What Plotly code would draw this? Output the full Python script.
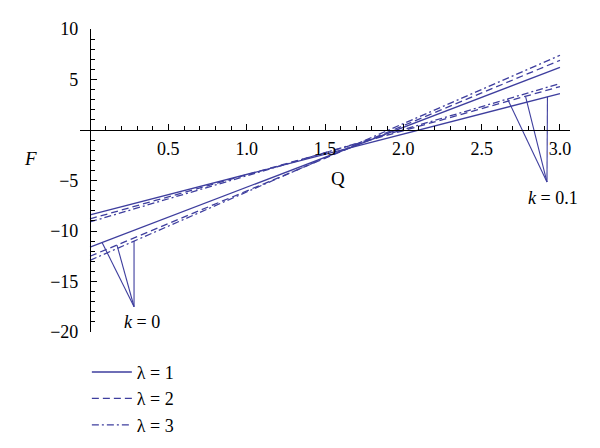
import plotly.graph_objects as go

# ---- data ----
q_ends = [0.0, 3.0]
lambdas = [1, 2, 3]
f_k0_start = [-11.6, -12.5, -12.9]
f_k0_end = [6.2, 6.9, 7.4]
f_k01_start = [-8.4, -8.8, -9.1]
f_k01_end = [3.6, 4.3, 4.6]

# pointer (callout) lines: tips on the curves, common vertex
k0_tip_q = [0.077, 0.172, 0.281]
k0_tip_f = [-11.14, -11.39, -11.0]
k0_vertex = [0.281, -17.5]
k01_tip_q = [2.665, 2.78, 2.92]
k01_tip_f = [3.07, 3.34, 3.28]
k01_vertex = [2.917, -5.15]

x_tick_vals = [0.5, 1.0, 1.5, 2.0, 2.5, 3.0]
x_tick_text = ["0.5", "1.0", "1.5", "2.0", "2.5", "3.0"]
y_tick_vals = [-20, -15, -10, -5, 5, 10]
y_tick_text = ["\u221220", "\u221215", "\u221210", "\u22125", "5", "10"]

x_range = [-0.064, 3.064]
y_range = [-20, 10]

COLOR = "rgb(62,62,158)"
FONT = "Liberation Serif"
dashes = ["solid", "7px,4px", "7px,3px,2px,3px"]

fig = go.Figure()
for i, lam in enumerate(lambdas):
    fig.add_trace(go.Scatter(
        x=q_ends, y=[f_k0_start[i], f_k0_end[i]], mode="lines",
        line=dict(color=COLOR, width=1.3, dash=dashes[i]),
        name=f"\u03bb = {lam}", showlegend=True))
for i, lam in enumerate(lambdas):
    fig.add_trace(go.Scatter(
        x=q_ends, y=[f_k01_start[i], f_k01_end[i]], mode="lines",
        line=dict(color=COLOR, width=1.3, dash=dashes[i]),
        name=f"\u03bb = {lam}", showlegend=False))


def pointer(tq, tf, v):
    xs, ys = [], []
    for a, b in zip(tq, tf):
        xs += [a, v[0], None]
        ys += [b, v[1], None]
    return xs, ys


for tq, tf, v in [(k0_tip_q, k0_tip_f, k0_vertex), (k01_tip_q, k01_tip_f, k01_vertex)]:
    xs, ys = pointer(tq, tf, v)
    fig.add_trace(go.Scatter(x=xs, y=ys, mode="lines",
                             line=dict(color=COLOR, width=1.1),
                             showlegend=False, hoverinfo="skip"))

fig.add_annotation(x=0.329, y=-19.0, text="<i>k</i> = 0",
                   showarrow=False, xanchor="center", yanchor="middle",
                   font=dict(family=FONT, size=18, color="black"))
fig.add_annotation(x=2.955, y=-6.73, text="<i>k</i> = 0.1",
                   showarrow=False, xanchor="center", yanchor="middle",
                   font=dict(family=FONT, size=18, color="black"))

# axis labels
fig.add_annotation(xref="paper", yref="paper", x=-0.118, y=0.574, text="<i>F</i>",
                   showarrow=False, font=dict(family=FONT, size=19, color="black"))
fig.add_annotation(xref="paper", yref="paper", x=0.527, y=0.508, text="Q",
                   showarrow=False, font=dict(family=FONT, size=19, color="black"))

y_pos = (0 - x_range[0]) / (x_range[1] - x_range[0])
x_pos = (0 - y_range[0]) / (y_range[1] - y_range[0])

# page body has an 8px margin; margins compensate so the plot area lands
# at x 80..570, y 29..332 in the window
fig.update_layout(
    width=600, height=448,
    margin=dict(l=72, r=38, t=21, b=124, autoexpand=False),
    plot_bgcolor="white", paper_bgcolor="white",
    font=dict(family=FONT, size=18, color="black"),
    xaxis=dict(range=x_range, showgrid=False, zeroline=False, showline=True,
               linecolor="black", linewidth=1.2, anchor="free", position=x_pos,
               tickmode="array", tickvals=x_tick_vals, ticktext=x_tick_text,
               ticks="inside", ticklen=6, tickwidth=1.1, tickcolor="black",
               ticklabelstandoff=2,
               tickfont=dict(family=FONT, size=18, color="black"),
               minor=dict(tickmode="linear", tick0=0, dtick=0.1, ticks="inside",
                          ticklen=3.5, tickwidth=1, tickcolor="black", showgrid=False)),
    yaxis=dict(range=y_range, showgrid=False, zeroline=False, showline=True,
               linecolor="black", linewidth=1.2, anchor="free", position=y_pos,
               tickmode="array", tickvals=y_tick_vals, ticktext=y_tick_text,
               ticks="inside", ticklen=6, tickwidth=1.1, tickcolor="black",
               ticklabelstandoff=8,
               tickfont=dict(family=FONT, size=18, color="black"),
               minor=dict(tickmode="linear", tick0=0, dtick=1, ticks="inside",
                          ticklen=3.5, tickwidth=1, tickcolor="black", showgrid=False)),
    legend=dict(x=0.014, y=-0.072, xanchor="left", yanchor="top",
                bgcolor="rgba(0,0,0,0)", itemwidth=40,
                font=dict(family=FONT, size=18, color="black")),
    showlegend=True,
)

fig.write_html("out.html")
